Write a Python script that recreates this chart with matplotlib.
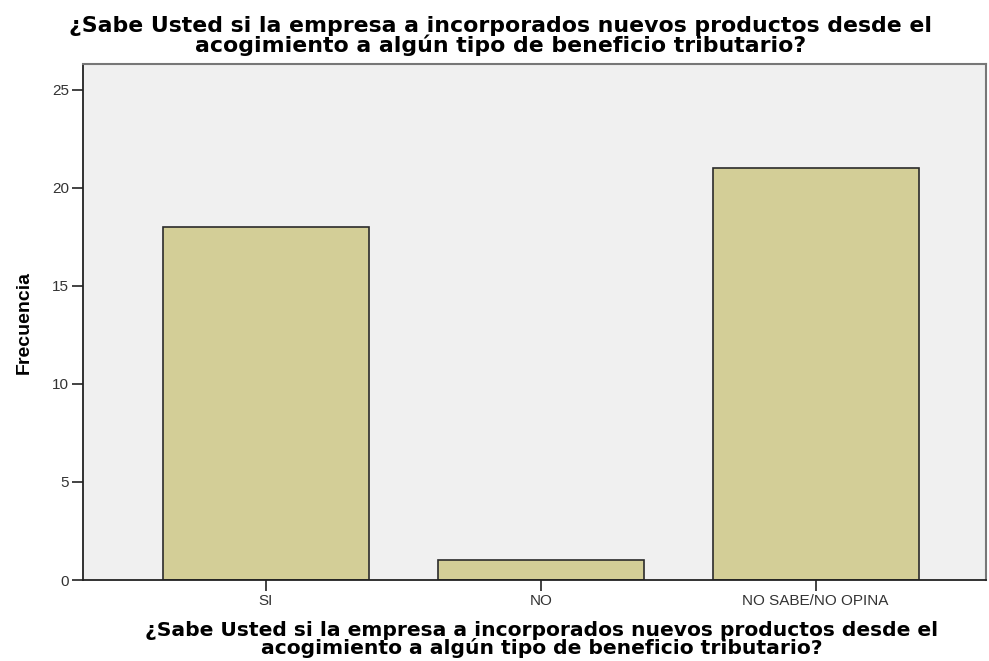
import matplotlib
matplotlib.use("Agg")
import matplotlib.pyplot as plt

categories = ["SI", "NO", "NO SABE/NO OPINA"]
frecuencia = [18, 1, 21]
yticks = [0, 5, 10, 15, 20, 25]
titulo = ("¿Sabe Usted si la empresa a incorporados nuevos productos desde el\n"
          "acogimiento a algún tipo de beneficio tributario?")

plt.rcParams["font.family"] = ["Liberation Sans", "DejaVu Sans"]

fig = plt.figure(figsize=(9.89, 6.61), dpi=100)
ax = fig.add_axes([0.084, 0.1225, 0.913, 0.7805])
ax.set_facecolor("#F0F0F0")

x = range(len(categories))
ax.bar(x, frecuencia, width=0.75, color="#D3CE97", edgecolor="#2b2b2b", linewidth=1.2, zorder=2)

ax.set_xlim(-0.665, 2.62)
ax.set_ylim(0, 26.3)
ax.set_yticks(yticks)
ax.set_xticks(list(x))
ax.set_xticklabels(categories)
ax.tick_params(axis="both", direction="out", length=8, width=1.2, colors="#222222",
               labelsize=11, labelcolor="#333333", pad=2)
for side in ["left", "bottom"]:
    ax.spines[side].set_color("#222222")
    ax.spines[side].set_linewidth(1.3)
for side in ["top", "right"]:
    ax.spines[side].set_color("#777777")
    ax.spines[side].set_linewidth(1.5)

ax.set_ylabel("Frecuencia", fontsize=14, fontweight="bold")
ax.yaxis.set_label_coords(-0.056, 0.5)
fig.text(0.506, 0.976, titulo, ha="center", va="top", fontsize=15.8, fontweight="bold",
         family="DejaVu Sans", linespacing=0.95)
fig.text(0.548, 0.004, titulo, ha="center", va="bottom", fontsize=14.6, fontweight="bold",
         family="DejaVu Sans", linespacing=0.92)

fig.savefig("out.png", dpi=100)
